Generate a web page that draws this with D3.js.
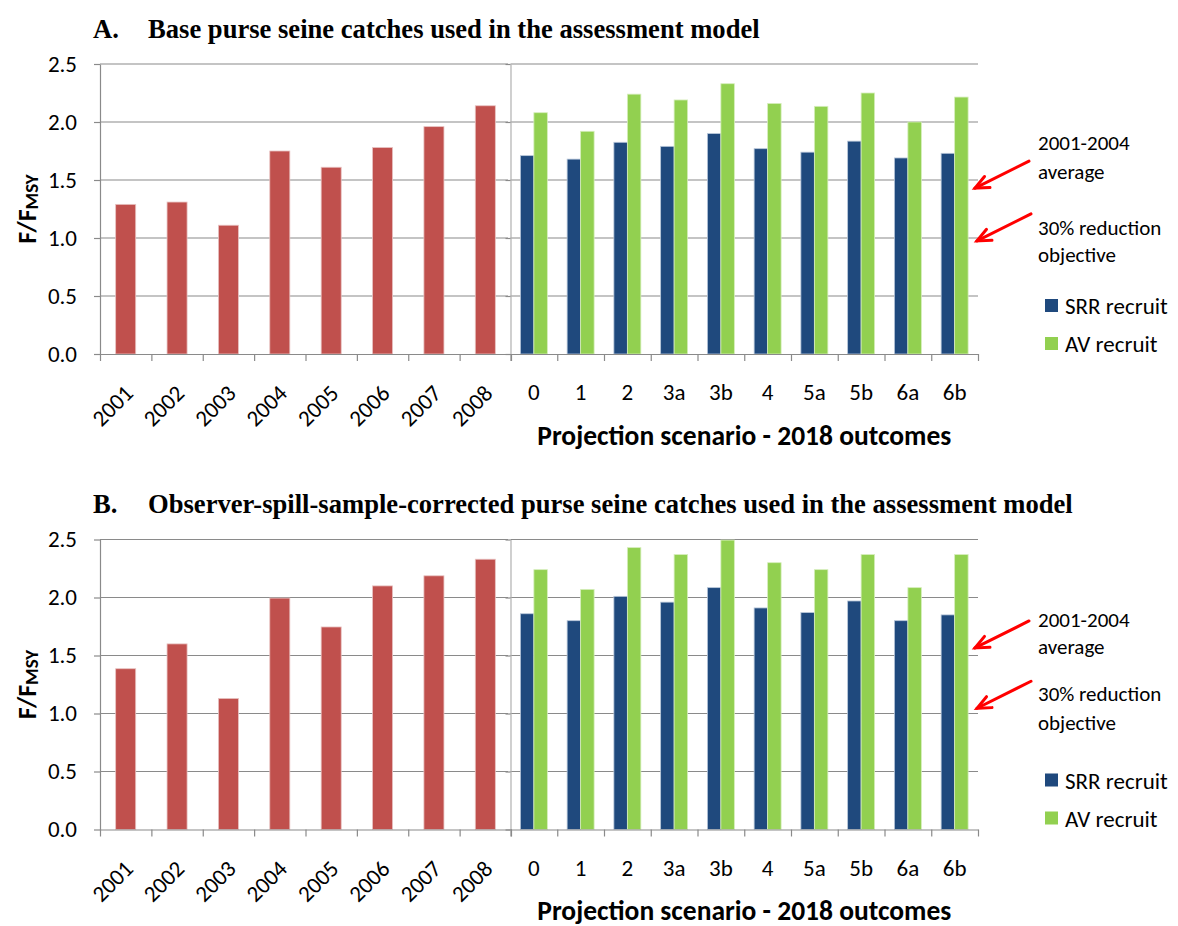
<!DOCTYPE html>
<html>
<head>
<meta charset="utf-8">
<script src="https://cdn.jsdelivr.net/npm/d3@7"></script>
<style>
  html, body { margin: 0; padding: 0; background: #fff; }
  svg { display: block; }
</style>
</head>
<body>
<svg id="chart" width="1178" height="926"></svg>
<script>
// ---------- data ----------
const years = ["2001", "2002", "2003", "2004", "2005", "2006", "2007", "2008"];
const scenarios = ["0", "1", "2", "3a", "3b", "4", "5a", "5b", "6a", "6b"];
const seriesNames = ["SRR recruit", "AV recruit"];
const yTicks = [0, 0.5, 1.0, 1.5, 2.0, 2.5];

const histA = [1.29, 1.31, 1.11, 1.75, 1.61, 1.78, 1.96, 2.14];
const srrA  = [1.71, 1.68, 1.825, 1.79, 1.90, 1.77, 1.74, 1.835, 1.69, 1.73];
const avA   = [2.08, 1.92, 2.24, 2.19, 2.33, 2.16, 2.135, 2.25, 2.00, 2.215];

const histB = [1.386, 1.60, 1.13, 1.995, 1.746, 2.10, 2.187, 2.33];
const srrB  = [1.86, 1.80, 2.01, 1.96, 2.085, 1.91, 1.87, 1.97, 1.80, 1.85];
const avB   = [2.24, 2.07, 2.43, 2.37, 2.495, 2.30, 2.24, 2.37, 2.085, 2.37];

// arrow targets (F/Fmsy level the arrows point at)
const arrowTargetsA = [1.43, 0.975];
const arrowTargetsB = [1.565, 1.045];

const titleLetters = ["A.", "B."];
const titles = [
  "Base purse seine catches used in the assessment model",
  "Observer-spill-sample-corrected purse seine catches used in the assessment model"
];
const xTitle = "Projection scenario - 2018 outcomes";
const noteLines = [["2001-2004", "average"], ["30% reduction", "objective"]];

// ---------- style ----------
const RED = "#C0504D", BLUE = "#1F497D", GREEN = "#92D050", GRID = "#8A8A8A";
const SANS = "Carlito, Lato, 'Open Sans', sans-serif";
const SERIF = "'Liberation Serif', 'Times New Roman', serif";

const svg = d3.select("#chart");

const panels = [
  { oy: 0,     hist: histA, srr: srrA, av: avA, arrows: arrowTargetsA, title: titles[0], letter: titleLetters[0],
    noteY: [[143, 172], [228, 255]], legendY: [306, 344] },
  { oy: 475.5, hist: histB, srr: srrB, av: avB, arrows: arrowTargetsB, title: titles[1], letter: titleLetters[1],
    noteY: [[144.5, 171.5], [218.5, 247]], legendY: [305, 343] }
];

const plotTop = 64, plotBottom = 354;
const leftX0 = 100, leftX1 = 511, rightX0 = 510.5, rightX1 = 978;

panels.forEach(p => {
  const g = svg.append("g").attr("transform", `translate(0,${p.oy})`);
  const y = d3.scaleLinear().domain([0, 2.5]).range([plotBottom, plotTop]);

  // title
  const t = g.append("text").attr("y", 37.5).attr("font-family", SERIF)
    .attr("font-weight", "bold").attr("font-size", 26.6).attr("fill", "#000");
  t.append("tspan").attr("x", 93).text(p.letter);
  t.append("tspan").attr("x", 148).text(p.title);

  // scales
  const xL = d3.scaleBand().domain(years).range([leftX0, leftX1]).paddingInner(0.61).paddingOuter(0.305);
  const xR = d3.scaleBand().domain(scenarios).range([rightX0, rightX1]).paddingInner(0.423).paddingOuter(0.2115);
  const xS = d3.scaleBand().domain(seriesNames).range([0, xR.bandwidth()]);
  const bL = d3.scaleLinear().domain([0, years.length]).range([leftX0, leftX1]);
  const bR = d3.scaleLinear().domain([0, scenarios.length]).range([rightX0, rightX1]);

  // gridlines
  const grid = g.append("g");
  grid.selectAll("line.gl").data(yTicks.filter(d => d > 0)).join("line")
    .attr("x1", leftX0).attr("x2", leftX1 - 3).attr("y1", d => y(d)).attr("y2", d => y(d))
    .attr("stroke", GRID).attr("stroke-width", 1.2);
  grid.selectAll("line.gr").data(yTicks.filter(d => d > 0)).join("line").attr("class", "gr")
    .attr("x1", rightX0).attr("x2", rightX1).attr("y1", d => y(d)).attr("y2", d => y(d))
    .attr("stroke", GRID).attr("stroke-width", 1.2);

  // bars
  g.append("g").selectAll("rect").data(years.map((k, i) => ({ k, v: p.hist[i] }))).join("rect")
    .attr("x", d => xL(d.k)).attr("width", xL.bandwidth())
    .attr("y", d => y(d.v)).attr("height", d => y(0) - y(d.v))
    .attr("fill", RED).attr("stroke", "#E8C3C2").attr("stroke-width", 0.8);

  const groups = g.append("g").selectAll("g").data(scenarios.map((k, i) => ({ k, vals: [p.srr[i], p.av[i]] })))
    .join("g").attr("transform", d => `translate(${xR(d.k)},0)`);
  groups.selectAll("rect").data(d => d.vals.map((v, j) => ({ s: seriesNames[j], v }))).join("rect")
    .attr("x", d => xS(d.s)).attr("width", xS.bandwidth())
    .attr("y", d => y(d.v)).attr("height", d => y(0) - y(d.v))
    .attr("fill", d => d.s === seriesNames[0] ? BLUE : GREEN)
    .attr("stroke", d => d.s === seriesNames[0] ? "#B9C7DA" : "#D6EEBC").attr("stroke-width", 0.8);

  // axes
  const styleAxis = (sel) => {
    sel.selectAll(".domain").attr("stroke", GRID).attr("stroke-width", 1.2);
    sel.selectAll(".tick line").attr("stroke", GRID).attr("stroke-width", 1.2);
    sel.attr("font-family", SANS).attr("font-size", 23);
    sel.selectAll(".tick text").attr("fill", "#000");
  };

  const yAxL = g.append("g").attr("transform", `translate(${leftX0},0)`)
    .call(d3.axisLeft(y).tickValues(yTicks).tickFormat(d3.format(".1f")).tickSize(6).tickPadding(17).tickSizeOuter(0));
  styleAxis(yAxL);

  const yAxR = g.append("g").attr("transform", `translate(${rightX0},0)`)
    .call(d3.axisLeft(y).tickValues(yTicks).tickFormat("").tickSize(5).tickSizeOuter(0));
  styleAxis(yAxR);
  yAxR.select(".domain").attr("stroke", "#B0B0B0");

  const xbL = g.append("g").attr("transform", `translate(0,${plotBottom})`)
    .call(d3.axisBottom(bL).tickValues(d3.range(years.length + 1)).tickFormat("").tickSize(7).tickSizeOuter(0));
  styleAxis(xbL);
  const xbR = g.append("g").attr("transform", `translate(0,${plotBottom})`)
    .call(d3.axisBottom(bR).tickValues(d3.range(scenarios.length + 1)).tickFormat("").tickSize(7).tickSizeOuter(0));
  styleAxis(xbR);

  const xlL = g.append("g").attr("transform", `translate(0,${plotBottom})`)
    .call(d3.axisBottom(xL).tickSize(0));
  xlL.select(".domain").remove();
  xlL.attr("font-family", SANS).attr("font-size", 23);
  xlL.selectAll(".tick text").attr("fill", "#000").attr("x", null).attr("y", null).attr("dy", "0.35em")
    .attr("text-anchor", "end").attr("transform", "translate(3,35) rotate(-45)");

  const xlR = g.append("g").attr("transform", `translate(0,${plotBottom})`)
    .call(d3.axisBottom(xR).tickSize(0));
  xlR.select(".domain").remove();
  xlR.attr("font-family", SANS).attr("font-size", 23);
  xlR.selectAll(".tick text").attr("fill", "#000").attr("y", 30);

  // x title
  g.append("text").attr("x", (rightX0 + rightX1) / 2).attr("y", 444.5)
    .attr("text-anchor", "middle").attr("font-family", SANS).attr("font-weight", "bold")
    .attr("font-size", 27.5).attr("fill", "#000").text(xTitle);

  // y title
  const yt = g.append("text").attr("transform", `translate(27,${(plotTop + plotBottom) / 2}) rotate(-90)`)
    .attr("text-anchor", "middle").attr("dy", "0.35em").attr("font-family", SANS)
    .attr("font-weight", "bold").attr("font-size", 26).attr("fill", "#000");
  yt.append("tspan").text("F/F");
  yt.append("tspan").attr("font-size", 19).attr("dy", 2).text("MSY");

  // arrows + notes
  p.arrows.forEach((v, i) => {
    const tx = 975 + i * 2, ty = y(v);
    const sx = tx + 54, sy = ty - 27;
    const ang = Math.atan2(sy - ty, sx - tx);
    const L = 15, spread = 0.42;
    const ag = g.append("g").attr("stroke", "#FF0000").attr("stroke-width", 3)
      .attr("stroke-linecap", "round").attr("fill", "none");
    ag.append("line").attr("x1", sx).attr("y1", sy).attr("x2", tx).attr("y2", ty);
    ag.append("path").attr("d",
      `M${tx + L * Math.cos(ang + spread)},${ty + L * Math.sin(ang + spread)} L${tx},${ty} L${tx + L * Math.cos(ang - spread)},${ty + L * Math.sin(ang - spread)}`)
      .attr("stroke-linejoin", "miter");

    noteLines[i].forEach((line, j) => {
      g.append("text").attr("x", 1038).attr("y", p.noteY[i][j]).attr("dy", "0.35em")
        .attr("font-family", SANS).attr("font-size", 21).attr("fill", "#000").text(line);
    });
  });

  // legend
  seriesNames.forEach((s, i) => {
    const ly = p.legendY[i];
    g.append("rect").attr("x", 1045).attr("y", ly - 7).attr("width", 13).attr("height", 13)
      .attr("fill", i === 0 ? BLUE : GREEN);
    g.append("text").attr("x", 1065).attr("y", ly).attr("dy", "0.35em")
      .attr("font-family", SANS).attr("font-size", 23).attr("fill", "#000").text(s);
  });
});
</script>
</body>
</html>
